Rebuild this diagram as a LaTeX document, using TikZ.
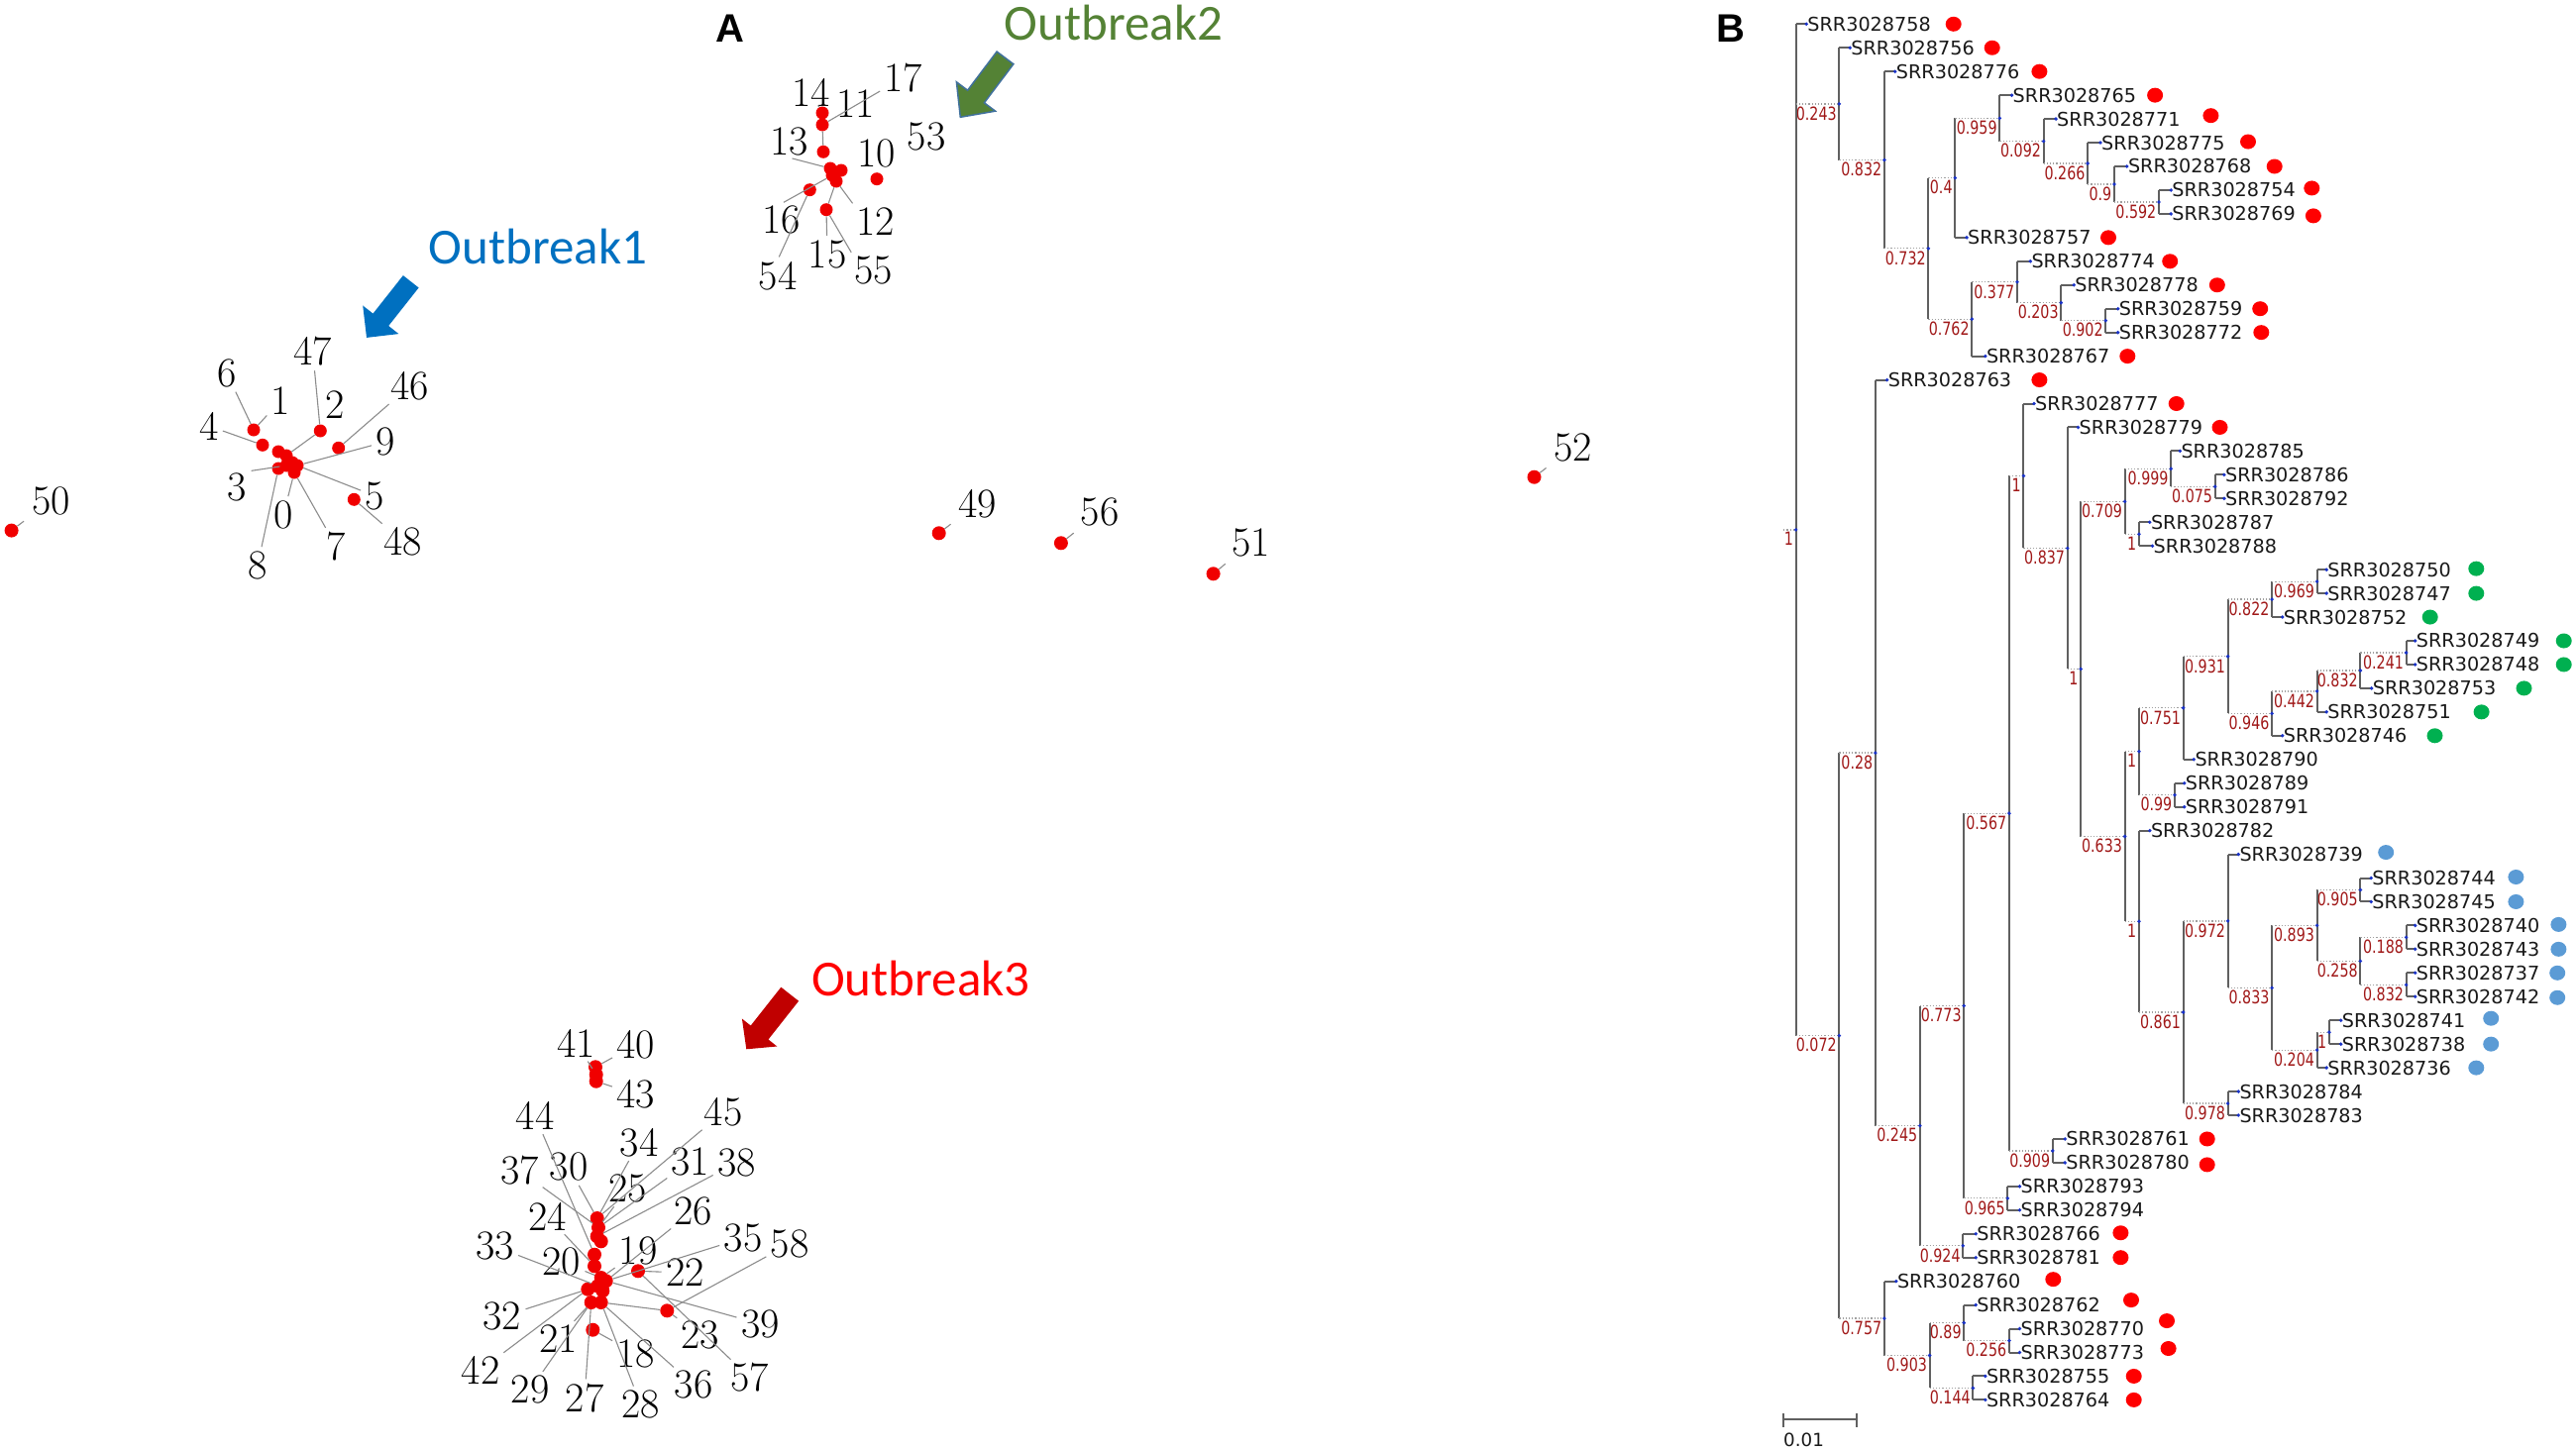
\documentclass[tikz,border=0pt]{standalone}
\usepackage{fontspec}
\usetikzlibrary{shapes.geometric}
\newfontfamily\leaffont{DejaVu Sans}
\newfontfamily\supfont[FakeStretch=0.78]{DejaVu Sans}
\newfontfamily\obfont{Carlito}
\newfontfamily\panelfont{Liberation Sans}
\definecolor{obblue}{HTML}{0070C0}
\definecolor{obgreen}{HTML}{548235}
\definecolor{obred}{HTML}{FF0000}
\definecolor{arrred}{HTML}{C00000}
\definecolor{arredge}{HTML}{41719C}
\definecolor{mkred}{HTML}{FF0000}
\definecolor{mkgreen}{HTML}{00B050}
\definecolor{mkblue}{HTML}{5B9BD5}
\definecolor{supred}{HTML}{A01818}
\definecolor{treegray}{HTML}{606060}
\definecolor{dotgray}{HTML}{A0A0A0}
\definecolor{nodeblue}{HTML}{1A33C8}
\definecolor{leadgray}{HTML}{8C8C8C}
\definecolor{ptred}{HTML}{F00000}
\begin{document}
\begin{tikzpicture}[x=1pt,y=-1pt,
  vline/.style={draw=treegray,line width=2pt},
  hleaf/.style={draw=treegray,line width=2pt},
  hint/.style={draw=dotgray,line width=1.2pt,dotted},
  leaf/.style={anchor=west,inner sep=1pt,font=\leaffont\fontsize{19.2}{19.2}\selectfont,text=black!90},
  sup/.style={anchor=north east,inner sep=2.5pt,font=\supfont\fontsize{18.3}{18.3}\selectfont,text=supred},
  marker/.style={ellipse,minimum width=16pt,minimum height=15pt,inner sep=0pt,draw=none},
  num/.style={inner sep=1.5pt,font=\fontsize{42}{42}\selectfont},
  pt/.style={circle,fill=ptred,minimum size=14pt,inner sep=0pt},
  lead/.style={draw=leadgray,line width=1.1pt,shorten <=3pt},
  ob/.style={anchor=base west,inner sep=0pt,font=\obfont\fontsize{51}{51}\selectfont},
  panel/.style={anchor=base,inner sep=0pt,font=\panelfont\bfseries\fontsize{40}{40}\selectfont}
]
\useasboundingbox (0,0) rectangle (2600,1464);

% ================= Panel labels =================
\node[panel] (pa) at (737,43) {A};
\node[panel] (pb) at (1746.5,43) {B};

% ================= Panel A : outbreak labels and arrows =================
\node[ob,text=obblue]  (ob1) at (432.5,266.7) {Outbreak1};
\node[ob,text=obgreen] (ob2) at (1013.5,41) {Outbreak2};
\node[ob,text=obred]   (ob3) at (819,1005) {Outbreak3};

\fill[obblue] (406.9,278.1) -- (376.5,316.6) -- (366.2,308.5) -- (370,340.9)
  -- (402.4,337.1) -- (392.2,329) -- (422.6,290.5) -- cycle;
\filldraw[fill=obgreen,draw=arredge,line width=1.5pt,line join=miter]
  (1006.1,52.1) -- (976.6,91.2) -- (965.4,82.8) -- (969.3,118.3)
  -- (1004.6,112.2) -- (993.4,103.8) -- (1022.9,64.7) -- cycle;
\fill[arrred] (788.3,996.7) -- (757.7,1035.5) -- (748.9,1028.5) -- (753.3,1059.3)
  -- (784.3,1056.5) -- (775.5,1049.5) -- (806.1,1010.7) -- cycle;

% ================= Panel A : isolated points =================
\foreach \nm/\dx/\dy/\lx/\ly in {50/11.6/535.6/51.4/505.7, 49/947.7/538.3/986.9/508.3,
  56/1070.9/548.3/1110.1/517.3, 51/1224.6/579.3/1262.4/548.3, 52/1548.5/481.7/1587.7/451.7}{
  \node[pt] (d\nm) at (\dx,\dy) {};
  \node[num] (n\nm) at (\lx,\ly) {\nm};
  \draw[lead,shorten <=8pt] (n\nm) -- (d\nm);
}

% ================= Outbreak 1 cluster =================
\foreach \nm/\dx/\dy in {a6/256/434, a4/265/449.3, a2/323.3/435, a46/341.7/452.3, a5/357.3/504.3,
  ac1/281/456, ac2/289/460, ac3/295/467, ac4/300/470, ac5/281/473, ac6/297/477, ac7/289/470}{
  \node[pt,minimum size=13pt] (\nm) at (\dx,\dy) {};
}
\foreach \nm/\lx/\ly in {6/229/377, 1/282.7/405, 47/315.7/355, 2/338.3/408.3, 46/413.3/390,
  4/210.7/430, 9/389.3/446, 3/239.3/491.7, 0/286/520, 5/378.3/500.7, 7/339.3/551.7,
  48/406.7/546.7, 8/260/571}{
  \node[num] (n\nm) at (\lx,\ly) {\nm};
}
\draw[lead] (n6) -- (a6);
\draw[lead] (n1) -- (a6);
\draw[lead] (n47) -- (a2);
\draw[lead,shorten <=0pt] (a2) -- (ac2);
\draw[lead] (n46) -- (a46);
\draw[lead] (n4) -- (a4);
\draw[lead] (n9) -- (ac4);
\draw[lead] (n5) -- (ac4);
\draw[lead] (n3.north east) -- (ac7);
\draw[lead] (n0) -- (ac6);
\draw[lead] (n7) -- (ac6);
\draw[lead] (n48) -- (a5);
\draw[lead] (n8) -- (ac5);

% ================= Outbreak 2 cluster =================
\foreach \nm/\dx/\dy in {b14/830/114, b11/830/126, b13/831/153.3, bc1/838/170, bc2/849/172,
  bc3/844/183, bc4/840/177, b10/885/180.7, b16/817.3/191.7, b15/834/211.7}{
  \node[pt,minimum size=13pt] (\nm) at (\dx,\dy) {};
}
\foreach \nm/\lx/\ly in {17/911.7/78.3, 14/818.3/93.3, 11/863.3/105, 13/796.7/143.3,
  10/884.3/155, 53/935/138.3, 16/788.3/221.7, 12/883.3/223.3, 15/835/256.7,
  54/785/278.3, 55/881.7/273.3}{
  \node[num] (n\nm) at (\lx,\ly) {\nm};
}
\draw[lead] (n17) -- (b11);
\draw[lead] (n14) -- (b14);
\draw[lead,shorten <=0pt] (b11) -- (b13);
\draw[lead] (n13.south) -- (bc1);
\draw[lead] (n10) -- (b10);
\draw[lead] (n16.north) -- (bc4);
\draw[lead] (n54.north) -- (b16);
\draw[lead] (n12.north west) -- (bc3);
\draw[lead] (n15) -- (b15);
\draw[lead] (n55.north west) -- (b15);
\draw[lead,shorten <=0pt] (bc3) -- (b15);

% ================= Outbreak 3 cluster =================
\foreach \nm/\dx/\dy in {c41/601/1077.3, c40/601.7/1085, c43/601.7/1091.7,
  q1/602.7/1230, q2/604/1239.3, q3/602.7/1248.3, q4/606.7/1253.3, q5/600/1266.7,
  q6/600/1278.3, q7/606.7/1290, q8/611.7/1293.3, q9/603.3/1298.3, q10/593.3/1301.7,
  q11/608.3/1303.3, q12/596.7/1315, q13/606.7/1315,
  r19/644/1283.3, r23/673.3/1323.3, r18/598.3/1342.7}{
  \node[pt] (\nm) at (\dx,\dy) {};
}
\foreach \nm/\lx/\ly in {41/581.7/1053.3, 40/641.7/1055, 43/641.7/1105, 44/540/1126.7,
  45/730/1122.7, 34/645/1153.3, 37/524.3/1181.7, 30/574/1178.3, 31/696.7/1172.7,
  38/743.3/1174, 25/633.3/1200, 24/552.7/1228.3, 26/699.3/1222.7, 33/499.3/1258.3,
  20/566.7/1274, 19/644/1263.3, 35/750/1250, 58/797/1256, 22/691.7/1285,
  32/506.7/1329.3, 39/767.3/1336.7, 21/563.3/1351.7, 23/706.7/1348.3, 18/641.7/1366.7,
  42/485/1383.3, 57/756.7/1391, 29/535/1403.3, 36/700/1398.3, 27/590/1411.7,
  28/646.7/1418.3}{
  \node[num] (n\nm) at (\lx,\ly) {\nm};
}
\draw[lead] (n41) -- (c40);
\draw[lead] (n40) -- (c41);
\draw[lead] (n43) -- (c43);
\draw[lead] (n44) -- (q5);
\draw[lead] (n45) -- (q1);
\draw[lead] (n34) -- (q1);
\draw[lead] (n37) -- (q2);
\draw[lead] (n30) -- (q1);
\draw[lead] (n31) -- (q2);
\draw[lead] (n38) -- (q3);
\draw[lead] (n25) -- (q2);
\draw[lead] (n24) -- (q6);
\draw[lead] (n26) -- (q8);
\draw[lead] (n33) -- (q9);
\draw[lead] (n20) -- (q7);
\draw[lead] (n19) -- (q7);
\draw[lead] (n35) -- (q8);
\draw[lead] (n22) -- (r19);
\draw[lead] (n58) -- (r23);
\draw[lead] (n32) -- (q10);
\draw[lead] (n39) -- (q8);
\draw[lead] (n42) -- (q10);
\draw[lead] (n21) -- (q12);
\draw[lead,shorten <=0pt] (r23) -- (q13);
\draw[lead] (n23) -- (r23);
\draw[lead] (n57) -- (r19);
\draw[lead] (n36) -- (q13);
\draw[lead] (n18) -- (r18);
\draw[lead] (n29) -- (q12);
\draw[lead] (n27) -- (q12);
\draw[lead] (n28) -- (q13);

% ================= Panel B : tree =================
\coordinate (R0) at (1800.2,534.94);
\foreach \nn/\xx/\yy/\vv in {R/1812.6/534.94/1, A/1856.4/104.9/0.243, B/1901.9/161.55/0.832,
  C/1946.4/250.89/0.732, D/1973.3/179.6/0.4, F/2018.3/119.35/0.959, G/2062.6/142.55/0.092,
  H/2107.1/165.01/0.266, I/2134/185.96/0.9, J/2179/203.93/0.592, E/1990.3/322.18/0.762,
  K/2035.9/284.76/0.377, L/2080.3/305.71/0.203, M/2125.3/323.68/0.902,
  Z/1856.4/1045.58/0.072, Y/1892.9/760.09/0.28, W/1937.9/1136.62/0.245, V/1982.3/1015.51/0.773,
  T/2027.9/821.19/0.567, Q/2042.4/480.46/1, O/2086.7/553.43/0.837, N1/2100.2/675.4/1,
  N2/2144.6/506.29/0.709, N4/2191.2/473.36/0.999, N6/2235.7/491.33/0.075, N5/2159/539.23/1,
  N3/2144.6/844.5/0.633, N7/2159/758.71/1, N9/2203.6/714.74/0.751, N11/2248.6/662.72/0.931,
  N12/2293.1/605.09/0.822, N14/2338.6/587.13/0.969, N13/2293.1/720.35/0.946,
  N15/2338.6/697.9/0.442, N16/2382.4/676.94/0.832, N17/2428.6/658.98/0.241,
  N10/2195/802.68/0.99, N8/2159/930.29/1, N18/2203.6/1021.97/0.861, N19/2248.6/929.91/0.972,
  N21/2293.1/997.27/0.833, N22/2338.6/934.4/0.893, N24/2382.4/898.48/0.905,
  N25/2382.4/970.33/0.258, N26/2428.6/946.38/0.188, N27/2428.6/994.28/0.832,
  N23/2338.6/1060.14/0.204, N28/2350.9/1042.18/1, N20/2248.6/1114.03/0.978,
  P/2071.8/1161.93/0.909, S/2026.3/1209.83/0.965, U/1981.3/1257.73/0.924,
  X/1901.9/1331.07/0.757, X2/1947.6/1368.49/0.903, X3/1982.3/1335.56/0.89,
  X5/2027.9/1353.53/0.256, X4/1991.4/1401.43/0.144}{
  \coordinate (\nn) at (\xx,\yy);
  \node[sup] (s\nn) at (\nn) {\vv};
}
% leaves
\foreach \i/\xx/\nm in {0/1823.2/58, 1/1867.2/56, 2/1912.7/76, 3/2030.5/65, 4/2075/71,
  5/2120/75, 6/2146.8/68, 7/2191.2/54, 8/2191.2/69, 9/1985/57, 10/2049.3/74, 11/2093.2/78,
  12/2137.7/59, 13/2137.7/72, 14/2003.8/67, 15/1904.6/63, 16/2053/77, 17/2097.5/79,
  18/2200.3/85, 19/2244.9/86, 20/2244.9/92, 21/2169.8/87, 22/2172.5/88, 23/2348.2/50,
  24/2348.2/47, 25/2303.7/52, 26/2437.7/49, 27/2437.7/48, 28/2393.7/53, 29/2348.2/51,
  30/2303.7/46, 31/2214.3/90, 32/2204.7/89, 33/2204.7/91, 34/2169.8/82, 35/2259.3/39,
  36/2393.2/44, 37/2393.2/45, 38/2437.7/40, 39/2437.7/43, 40/2437.7/37, 41/2437.7/42,
  42/2362.7/41, 43/2362.7/38, 44/2348.2/36, 45/2259.3/84, 46/2259.3/83, 47/2084.2/61,
  48/2084.2/80, 49/2038.5/93, 50/2038.5/94, 51/1994.2/66, 52/1994.2/81, 53/1913.8/60,
  54/1994.2/62, 55/2038.5/70, 56/2038.5/73, 57/2003.8/55, 58/2003.8/64}{
  \coordinate (l\i) at (\xx,{24.3+23.95*\i});
  \node[leaf] (lt\i) at (l\i) {SRR30287\nm};
}
% outbreak markers
\foreach \i/\xx/\col/\dy in {0/1971.7/red/0, 1/2010.7/red/0, 2/2058.4/red/0, 3/2175.1/red/0,
  4/2231.4/red/-3.4, 5/2269/red/-1, 6/2295.7/red/0, 7/2333.3/red/-2, 8/2334.9/red/2,
  9/2128/red/0, 10/2190.2/red/0, 11/2237.8/red/0, 12/2281.2/red/0, 13/2282.3/red/0,
  14/2147.3/red/0, 15/2058.4/red/0, 16/2196.7/red/0, 17/2240.5/red/0,
  23/2499.3/green/-1, 24/2499.3/green/0, 25/2452.7/green/0, 26/2587.7/green/0,
  27/2587.7/green/0, 28/2547.5/green/0, 29/2504.6/green/0, 30/2457.5/green/0,
  35/2408.2/blue/-2, 36/2539.4/blue/-1, 37/2539.4/blue/0, 38/2582.4/blue/-1,
  39/2582.4/blue/0, 40/2581.2/blue/0, 41/2581.2/blue/1, 42/2514.2/blue/-2,
  43/2514.2/blue/0, 44/2499.3/blue/0,
  47/2227.7/red/0, 48/2227.7/red/2, 51/2140.4/red/-1, 52/2140.4/red/0, 53/2072.3/red/-2,
  54/2151/red/-5, 55/2187/red/-8, 56/2188.6/red/-4, 57/2153.7/red/0, 58/2153.7/red/0}{
  \node[marker,fill=mk\col] (m\i) at (\xx,{24.3+23.95*\i+(\dy)}) {};
}
% vertical lines of the internal nodes
\foreach \pp/\aa/\bb in {R/l0/Z, A/l1/B, B/l2/C, C/D/E, D/F/l9, F/l3/G, G/l4/H, H/l5/I,
  I/l6/J, J/l7/l8, E/K/l14, K/l10/L, L/l11/M, M/l12/l13, Z/Y/X, Y/l15/W, W/V/U, V/T/S,
  T/Q/P, Q/l16/O, O/l17/N1, N1/N2/N3, N2/N4/N5, N4/l18/N6, N6/l19/l20, N5/l21/l22,
  N3/N7/N8, N7/N9/N10, N9/N11/l31, N11/N12/N13, N12/N14/l25, N14/l23/l24, N13/N15/l30,
  N15/N16/l29, N16/N17/l28, N17/l26/l27, N10/l32/l33, N8/l34/N18, N18/N19/N20,
  N19/l35/N21, N21/N22/N23, N22/N24/N25, N24/l36/l37, N25/N26/N27, N26/l38/l39,
  N27/l40/l41, N23/N28/l44, N28/l42/l43, N20/l45/l46, P/l47/l48, S/l49/l50, U/l51/l52,
  X/l53/X2, X2/X3/X4, X3/l54/X5, X5/l55/l56, X4/l57/l58}{
  \draw[vline] (\pp |- \aa) -- (\pp |- \bb);
}
% dotted branches to internal nodes
\draw[hint] (R0) -- (R);
\foreach \pp/\cc in {R/A, R/Z, A/B, B/C, C/D, C/E, D/F, F/G, G/H, H/I, I/J, E/K, K/L, L/M,
  Z/Y, Z/X, Y/W, W/V, W/U, V/T, V/S, T/Q, T/P, Q/O, O/N1, N1/N2, N1/N3, N2/N4, N2/N5,
  N4/N6, N3/N7, N3/N8, N7/N9, N7/N10, N9/N11, N11/N12, N11/N13, N12/N14, N13/N15,
  N15/N16, N16/N17, N8/N18, N18/N19, N18/N20, N19/N21, N21/N22, N21/N23, N22/N24,
  N22/N25, N25/N26, N25/N27, N23/N28, X/X2, X2/X3, X2/X4, X3/X5}{
  \draw[hint] (\pp |- \cc) -- (\cc);
  \fill[nodeblue] (\cc) circle (1.9);
}
\fill[nodeblue] (R) circle (1.9);
% solid branches to leaves
\foreach \pp/\cc in {R/l0, A/l1, B/l2, F/l3, G/l4, H/l5, I/l6, J/l7, J/l8, D/l9, K/l10,
  L/l11, M/l12, M/l13, E/l14, Y/l15, Q/l16, O/l17, N4/l18, N6/l19, N6/l20, N5/l21, N5/l22,
  N14/l23, N14/l24, N12/l25, N17/l26, N17/l27, N16/l28, N15/l29, N13/l30, N9/l31, N10/l32,
  N10/l33, N8/l34, N19/l35, N24/l36, N24/l37, N26/l38, N26/l39, N27/l40, N27/l41, N28/l42,
  N28/l43, N23/l44, N20/l45, N20/l46, P/l47, P/l48, S/l49, S/l50, U/l51, U/l52, X/l53,
  X3/l54, X5/l55, X5/l56, X4/l57, X4/l58}{
  \draw[hleaf] (\pp |- \cc) -- (\cc);
  \fill[nodeblue] (\cc) circle (1.9);
}

% scale bar
\coordinate (sb1) at (1800.2,1433.3);
\coordinate (sb2) at (1874.1,1433.3);
\draw[treegray,line width=2pt] (sb1) -- (sb2);
\draw[treegray,line width=2pt] (1800.2,1427) -- (1800.2,1441) (1874.1,1427) -- (1874.1,1441);
\node[leaf,font=\leaffont\fontsize{18.3}{18.3}\selectfont] (sbl) at (1799,1454) {0.01};
\end{tikzpicture}
\end{document}
